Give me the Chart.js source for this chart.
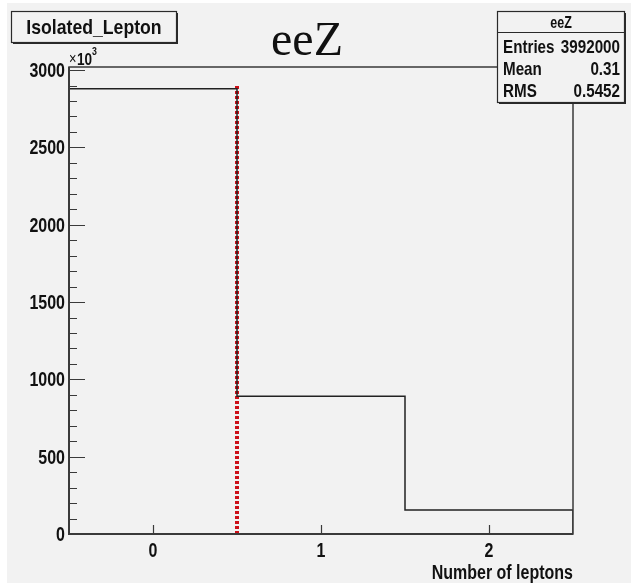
<!DOCTYPE html>
<html>
<head>
<meta charset="utf-8">
<script src="https://cdn.jsdelivr.net/npm/chart.js@4/dist/chart.umd.min.js"></script>
<style>
  html, body { margin: 0; padding: 0; background: #fff; }
  canvas { display: block; }
</style>
</head>
<body>
<canvas id="hist" width="631" height="587"></canvas>
<script>
// bin edges and contents (units of 10^3 events)
const binEdges = [-0.5, 0.5, 1.5, 2.5];
const binCounts = [2880, 890, 155];
// selection cut marker
const cutX = [0.5, 0.5];
const cutY = [0, 2900];
const xTicks = [0, 1, 2];
const yTicks = [0, 500, 1000, 1500, 2000, 2500, 3000];
const statNames = ["Entries", "Mean", "RMS"];
const statValues = ["3992000", "0.31", "0.5452"];

const FONT = "'Liberation Sans', Arial, Helvetica, sans-serif";
const NARROW = 0.8; // helvetica-bold-ish condensed look

// step outline: one point per lower edge, plus the last upper edge
var histPoints = binCounts.map(function (c, i) {
  return { x: binEdges[i], y: c };
});
histPoints.push({ x: binEdges[binEdges.length - 1], y: binCounts[binCounts.length - 1] });
histPoints.push({ x: binEdges[binEdges.length - 1], y: 0 });

var cutPoints = cutX.map(function (x, i) { return { x: x, y: cutY[i] }; });

// text squeezed horizontally
function narrowText(ctx, text, x, y, sx, align) {
  ctx.save();
  ctx.translate(x, y);
  ctx.scale(sx, 1);
  ctx.textAlign = align;
  ctx.fillText(text, 0, 0);
  ctx.restore();
}

const rootPad = {
  id: "rootPad",
  beforeDraw(chart) {
    const ctx = chart.ctx;
    ctx.save();
    ctx.fillStyle = "#ffffff";
    ctx.fillRect(0, 0, chart.width, chart.height);
    ctx.fillStyle = "#f2f2f2";
    ctx.fillRect(7, 3, chart.width - 7, 580);
    ctx.restore();
  },
  afterDatasetsDraw(chart) {
    const ctx = chart.ctx;
    const a = chart.chartArea;
    const xs = chart.scales.x, ys = chart.scales.y;
    ctx.save();
    ctx.strokeStyle = "#3a3a3a";
    ctx.lineWidth = 1.5;
    ctx.strokeRect(a.left, a.top, a.right - a.left, a.bottom - a.top);
    ctx.lineWidth = 2;
    ctx.beginPath();
    ctx.moveTo(a.left, a.top);
    ctx.lineTo(a.left, a.bottom);
    ctx.lineTo(a.right, a.bottom);
    ctx.stroke();

    // inward ticks on the y axis, minor every 100
    ctx.lineWidth = 1.2;
    ctx.beginPath();
    for (let v = 0; v <= 3000; v += 100) {
      const py = Math.round(ys.getPixelForValue(v)) + 0.5;
      const len = v % 500 === 0 ? 16 : 8;
      ctx.moveTo(a.left, py);
      ctx.lineTo(a.left + len, py);
    }
    // major ticks on the x axis
    xTicks.forEach(function (v) {
      const px = Math.round(xs.getPixelForValue(v)) + 0.5;
      ctx.moveTo(px, a.bottom);
      ctx.lineTo(px, a.bottom - 9);
    });
    ctx.stroke();

    ctx.fillStyle = "#111";
    ctx.textBaseline = "alphabetic";
    ctx.font = "bold 20px " + FONT;
    ys.ticks.forEach(function (t) {
      const py = ys.getPixelForValue(t.value);
      narrowText(ctx, String(t.value), a.left - 4, py + 7, NARROW, "right");
    });
    xs.ticks.forEach(function (t) {
      const px = xs.getPixelForValue(t.value);
      narrowText(ctx, String(t.value), px, 557, NARROW, "center");
    });

    // x10^3 multiplier
    ctx.font = "16px " + FONT;
    narrowText(ctx, "\u00d7", a.left, 64, NARROW, "left");
    ctx.font = "bold 17px " + FONT;
    narrowText(ctx, "10", a.left + 8, 65, NARROW, "left");
    ctx.font = "bold 11px " + FONT;
    narrowText(ctx, "3", a.left + 23, 55, NARROW, "left");

    // x axis title
    ctx.font = "bold 20px " + FONT;
    narrowText(ctx, "Number of leptons", a.right, 579, NARROW, "right");
    ctx.restore();
  },
  afterDraw(chart) {
    const ctx = chart.ctx;
    ctx.save();
    function box(x, y, w, h) {
      ctx.fillStyle = "#2a2a2a";
      ctx.fillRect(x + 2, y + 2, w, h);
      ctx.fillStyle = "#f2f2f2";
      ctx.fillRect(x, y, w, h);
      ctx.strokeStyle = "#2a2a2a";
      ctx.lineWidth = 1.2;
      ctx.strokeRect(x + 0.5, y + 0.5, w, h);
    }
    // histogram name box
    box(11, 11, 165, 31);
    ctx.fillStyle = "#111";
    ctx.textBaseline = "alphabetic";
    ctx.font = "bold 21px " + FONT;
    narrowText(ctx, "Isolated_Lepton", 94, 34, 0.84, "center");

    // stats box
    box(497, 11, 127, 91);
    ctx.beginPath();
    ctx.moveTo(497, 32.5);
    ctx.lineTo(624, 32.5);
    ctx.stroke();
    ctx.fillStyle = "#111";
    ctx.font = "bold 16px " + FONT;
    narrowText(ctx, "eeZ", 561, 28, 0.78, "center");
    ctx.font = "bold 19px " + FONT;
    statNames.forEach(function (n, i) {
      const y = 53 + i * 22;
      narrowText(ctx, n, 503, y, 0.8, "left");
      narrowText(ctx, statValues[i], 620, y, 0.8, "right");
    });

    // title
    ctx.font = "48px 'Liberation Serif', 'DejaVu Serif', serif";
    ctx.textAlign = "center";
    ctx.fillText("eeZ", 307, 55);
    ctx.restore();
  }
};

new Chart(document.getElementById("hist"), {
  type: "line",
  data: {
    datasets: [
      {
        label: "Isolated_Lepton",
        data: histPoints,
        stepped: "before",
        borderColor: "#222222",
        borderWidth: 1.5,
        pointRadius: 0,
        fill: false,
      },
      {
        label: "cut",
        data: cutPoints,
        borderColor: "#cc1018",
        borderWidth: 4,
        borderDash: [3, 2],
        borderCapStyle: "butt",
        pointRadius: 0,
        fill: false,
      },
    ],
  },
  options: {
    responsive: false,
    animation: false,
    layout: { padding: { left: 0, top: 67, right: 58, bottom: 0 } },
    plugins: {
      legend: { display: false },
      tooltip: { enabled: false },
    },
    scales: {
      x: {
        type: "linear",
        min: -0.5,
        max: 2.5,
        grid: { display: false, drawTicks: false },
        border: { display: false },
        afterFit: function (scale) { scale.height = 53; },
        afterBuildTicks: function (scale) {
          scale.ticks = xTicks.map(function (v) { return { value: v }; });
        },
        // labels are painted condensed by the rootPad plugin
        ticks: { display: false },
      },
      y: {
        min: 0,
        max: 3020,
        grid: { display: false, drawTicks: false },
        border: { display: false },
        afterFit: function (scale) { scale.width = 69; },
        afterBuildTicks: function (scale) {
          scale.ticks = yTicks.map(function (v) { return { value: v }; });
        },
        ticks: { display: false },
      },
    },
  },
  plugins: [rootPad],
});
</script>
</body>
</html>
